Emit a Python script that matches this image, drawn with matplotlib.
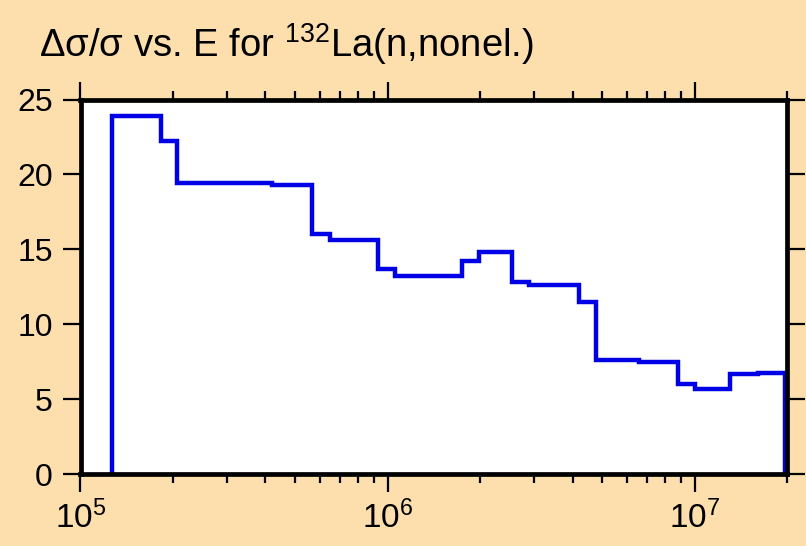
import matplotlib
matplotlib.use("Agg")
import matplotlib.pyplot as plt
from matplotlib.ticker import FixedLocator, NullFormatter, FixedFormatter

# Data: bin edges (eV) and relative uncertainty (%)
edges = [1.265e5, 1.83e5, 2.06e5, 3.0e5, 4.2e5, 5.67e5, 6.49e5, 9.31e5, 1.056e6,
         1.75e6, 1.99e6, 2.54e6, 2.89e6, 4.2e6, 4.77e6, 6.6e6, 8.82e6, 1.0e7,
         1.305e7, 1.6e7, 1.97e7]
values = [23.9, 22.2, 19.45, 19.4, 19.3, 16.0, 15.6, 13.7, 13.2, 14.2, 14.8,
          12.8, 12.6, 11.5, 7.6, 7.5, 6.0, 5.7, 6.7, 6.75]
yticks = [0, 5, 10, 15, 20, 25]
xmajor = [1e5, 1e6, 1e7]
xmajor_labels = ["$10^{5}$", "$10^{6}$", "$10^{7}$"]

FONT = "Liberation Sans"
plt.rcParams["font.family"] = [FONT, "DejaVu Sans"]
plt.rcParams["mathtext.fontset"] = "custom"
plt.rcParams["mathtext.rm"] = FONT
plt.rcParams["mathtext.it"] = FONT
plt.rcParams["mathtext.bf"] = FONT

bg = "#FDDEAD"
W, H = 806, 546
fig = plt.figure(figsize=(W / 100, H / 100), dpi=100, facecolor=bg)
x0, x1, ytop, ybot = 80.5, 787.3, 99.5, 474.0
ax = fig.add_axes([x0 / W, 1 - ybot / H, (x1 - x0) / W, (ybot - ytop) / H])
ax.set_facecolor("white")

ax.stairs(values, edges, baseline=0, color="#0000E6", linewidth=3.2, zorder=2)

ax.set_xscale("log")
ax.set_xlim(1e5, 2e7)
ax.set_ylim(0, 25)

minors = []
for d in [1e5, 1e6]:
    minors += [d * k for k in range(2, 10)]
minors += [2e7]
ax.xaxis.set_major_locator(FixedLocator(xmajor))
ax.xaxis.set_major_formatter(FixedFormatter(xmajor_labels))
ax.xaxis.set_minor_locator(FixedLocator(minors))
ax.xaxis.set_minor_formatter(NullFormatter())
ax.set_yticks(yticks)
ax.set_yticklabels([str(v) for v in yticks])

ax.tick_params(axis="both", which="major", direction="out", length=13, width=1.6,
               top=True, right=True)
ax.tick_params(axis="x", which="major", pad=6, labelsize=24)
ax.tick_params(axis="y", which="major", pad=7, labelsize=23)
ax.tick_params(axis="x", which="minor", direction="out", length=6.5, width=1.6,
               top=True)
ax.tick_params(axis="y", which="both", right=True, labelright=False)

for s in ax.spines.values():
    s.set_linewidth(3.4)
    s.set_zorder(3)

fig.text(39 / W, 1 - 57 / H, r"$\Delta\sigma/\sigma$ vs. E for $^{132}$La(n,nonel.)",
         fontsize=27.5, ha="left", va="baseline")

fig.savefig("out.png", dpi=100, facecolor=bg)
